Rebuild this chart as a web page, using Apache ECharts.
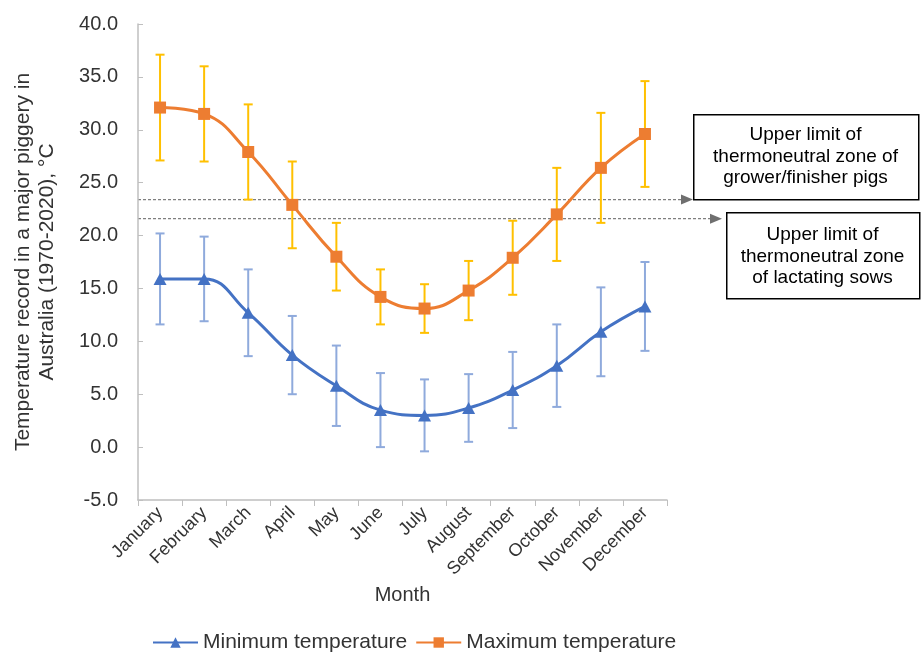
<!DOCTYPE html>
<html>
<head>
<meta charset="utf-8">
<script src="https://cdn.jsdelivr.net/npm/echarts@6/dist/echarts.min.js"></script>
<style>
html,body{margin:0;padding:0;background:#fff;}
#chart{width:923px;height:654px;}
</style>
</head>
<body>
<div id="chart"></div>
<script>
const months = ['January','February','March','April','May','June','July','August','September','October','November','December'];
const minTemp = [15.9, 15.9, 12.7, 8.7, 5.8, 3.5, 3.0, 3.7, 5.4, 7.7, 10.9, 13.3];
const minErr  = [4.3, 4.0, 4.1, 3.7, 3.8, 3.5, 3.4, 3.2, 3.6, 3.9, 4.2, 4.2];
const maxTemp = [32.1, 31.5, 27.9, 22.9, 18.0, 14.2, 13.1, 14.8, 17.9, 22.0, 26.4, 29.6];
const maxErr  = [5.0, 4.5, 4.5, 4.1, 3.2, 2.6, 2.3, 2.8, 3.5, 4.4, 5.2, 5.0];
const thresholds = [23.4, 21.6];
const thresholdLabels = [
  'Upper limit of\nthermoneutral zone of\ngrower/finisher pigs',
  'Upper limit of\nthermoneutral zone\nof lactating sows'
];
const yMin = -5, yMax = 40, yStep = 5;

const FONT = '"Liberation Sans", Arial, sans-serif';
const chart = echarts.init(document.getElementById('chart'));

function errData(vals, errs) {
  return vals.map((v, i) => [i, v - errs[i], v + errs[i]]);
}
function errRender(color) {
  return function (params, api) {
    const i = api.value(0);
    const lo = api.coord([i, api.value(1)]);
    const hi = api.coord([i, api.value(2)]);
    const hw = 4.5;
    const st = {stroke: color, lineWidth: 2};
    return {
      type: 'group',
      children: [
        {type: 'line', shape: {x1: hi[0], y1: hi[1], x2: lo[0], y2: lo[1]}, style: st},
        {type: 'line', shape: {x1: hi[0]-hw, y1: hi[1], x2: hi[0]+hw, y2: hi[1]}, style: st},
        {type: 'line', shape: {x1: lo[0]-hw, y1: lo[1], x2: lo[0]+hw, y2: lo[1]}, style: st}
      ]
    };
  };
}
const arrowTips = [693, 722];
function threshRender(params, api) {
  const v = api.value(1);
  const p = api.coord([0, v]);
  const band = api.size([1, 0])[0];
  const x0 = p[0] - band / 2;
  const tip = arrowTips[params.dataIndex];
  const y = p[1];
  return {
    type: 'group',
    children: [
      {type: 'line', shape: {x1: x0, y1: y, x2: tip - 11, y2: y},
       style: {stroke: '#7f7f7f', lineWidth: 1.3, lineDash: [3, 2]}},
      {type: 'polygon', shape: {points: [[tip - 12, y - 5], [tip, y], [tip - 12, y + 5]]},
       style: {fill: '#6f6f6f'}}
    ]
  };
}

const option = {
  backgroundColor: '#fff',
  textStyle: {fontFamily: FONT},
  animation: false,
  grid: {left: 138, right: 256, top: 24, bottom: 154, containLabel: false, outerBoundsMode: 'none'},
  legend: {
    left: 147, top: 627,
    itemWidth: 45, itemHeight: 13, itemGap: 8,
    textStyle: {fontSize: 21, color: '#333', fontFamily: FONT},
    data: ['Minimum temperature', 'Maximum temperature']
  },
  xAxis: {
    type: 'category',
    data: months,
    boundaryGap: true,
    name: 'Month',
    nameLocation: 'middle',
    nameGap: 84,
    nameTextStyle: {fontSize: 20, color: '#333'},
    axisLine: {onZero: false, lineStyle: {color: '#bfbfbf', width: 1.5}},
    axisTick: {show: true, alignWithLabel: false, length: 6, lineStyle: {color: '#bfbfbf'}},
    axisLabel: {rotate: 45, fontSize: 18, color: '#333', margin: 10, interval: 0}
  },
  yAxis: {
    type: 'value',
    min: yMin, max: yMax, interval: yStep,
    name: 'Temperature record in a major piggery in\nAustralia (1970-2020), °C',
    nameLocation: 'middle',
    nameGap: 79,
    nameTextStyle: {fontSize: 21, color: '#333', lineHeight: 24},
    axisLine: {show: true, lineStyle: {color: '#bfbfbf', width: 1.5}},
    axisTick: {show: true, inside: true, length: 5, lineStyle: {color: '#bfbfbf'}},
    splitLine: {show: false},
    axisLabel: {fontSize: 20, color: '#333', margin: 20, formatter: v => v.toFixed(1)}
  },
  series: [
    {
      name: 'maxErr', type: 'custom', z: 1,
      renderItem: errRender('#FFC000'),
      data: errData(maxTemp, maxErr), silent: true
    },
    {
      name: 'minErr', type: 'custom', z: 1,
      renderItem: errRender('#8FAADC'),
      data: errData(minTemp, minErr), silent: true
    },
    {
      name: 'thresholds', type: 'custom', z: 0, clip: false,
      renderItem: threshRender,
      data: thresholds.map(v => [0, v]), silent: true
    },
    {
      name: 'Minimum temperature', type: 'line', data: minTemp, z: 3,
      smooth: 0.45, symbol: 'triangle', symbolSize: [13, 12],
      lineStyle: {color: '#4472C4', width: 3},
      itemStyle: {color: '#4472C4'}
    },
    {
      name: 'Maximum temperature', type: 'line', data: maxTemp, z: 3,
      smooth: 0.45, symbol: 'rect', symbolSize: 12,
      lineStyle: {color: '#ED7D31', width: 3},
      itemStyle: {color: '#ED7D31'}
    }
  ],
  graphic: [
    {type: 'rect', left: 693, top: 114, shape: {width: 225, height: 85},
     style: {fill: '#fff', stroke: '#000', lineWidth: 1.5}, z: 10},
    {type: 'text', x: 805.5, y: 156.5, z: 11,
     style: {text: thresholdLabels[0], fontSize: 19, lineHeight: 21.5, fill: '#000', fontFamily: FONT,
             align: 'center', verticalAlign: 'middle'}},
    {type: 'rect', left: 726, top: 212, shape: {width: 193, height: 86},
     style: {fill: '#fff', stroke: '#000', lineWidth: 1.5}, z: 10},
    {type: 'text', x: 822.5, y: 256.5, z: 11,
     style: {text: thresholdLabels[1], fontSize: 19, lineHeight: 21.5, fill: '#000', fontFamily: FONT,
             align: 'center', verticalAlign: 'middle'}}
  ]
};
chart.setOption(option);
</script>
</body>
</html>
